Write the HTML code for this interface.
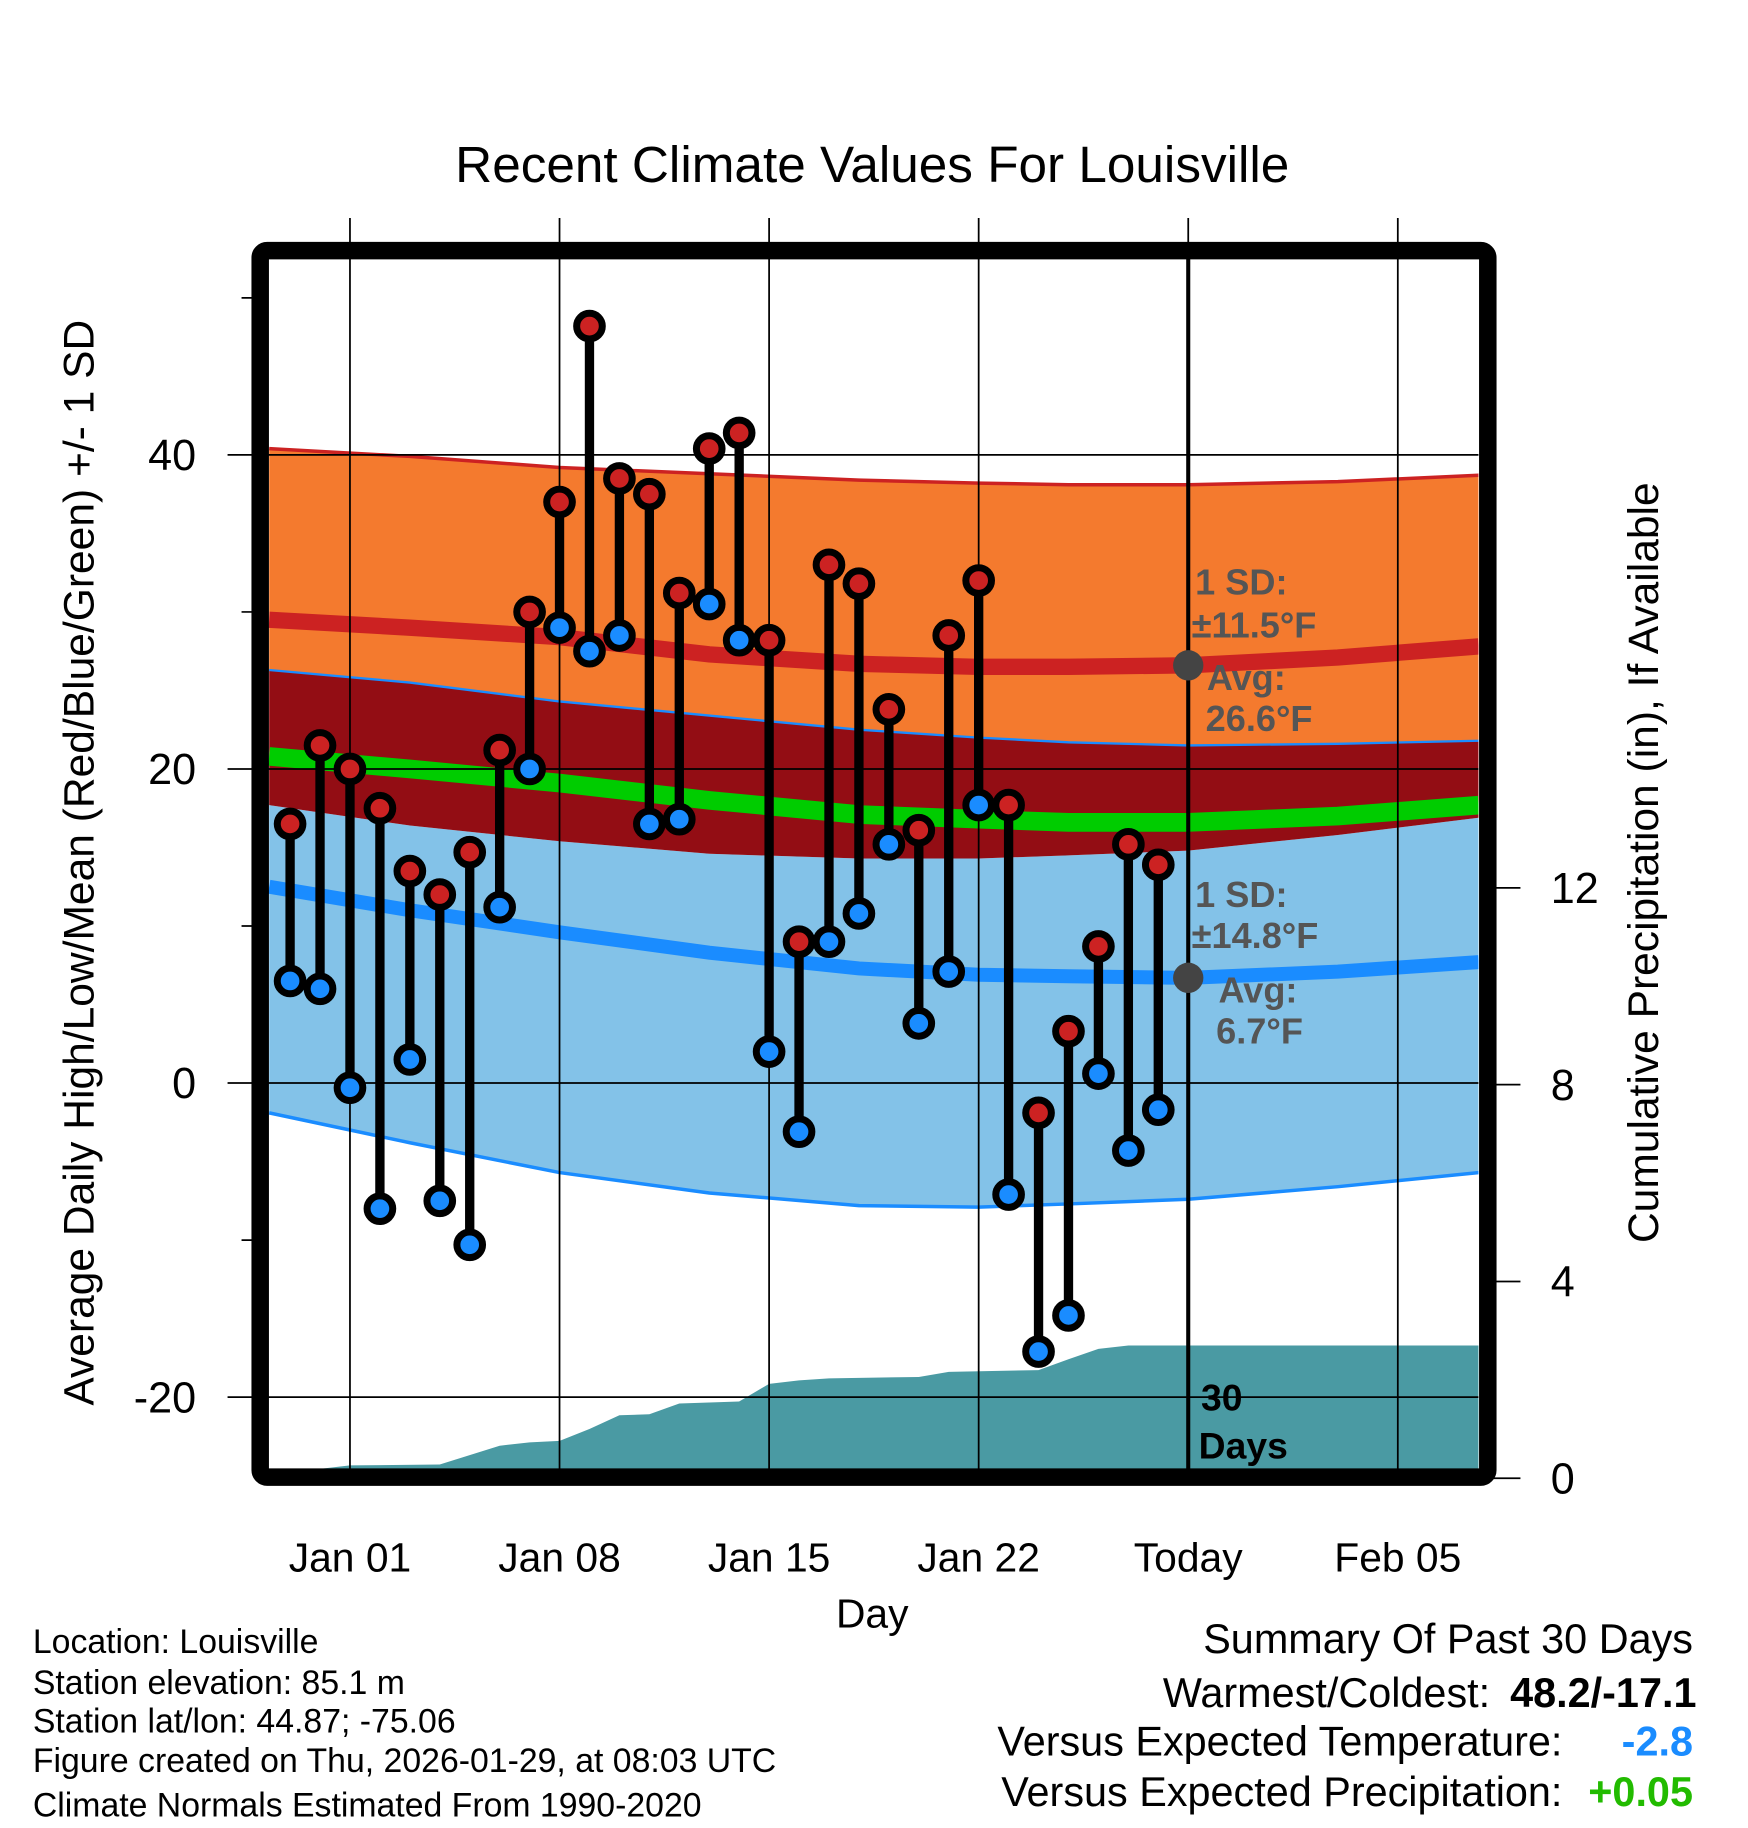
<!DOCTYPE html>
<html><head><meta charset="utf-8"><style>
html,body{margin:0;padding:0;background:#fff}
svg{display:block;font-family:"Liberation Sans",sans-serif}
</style></head><body>
<svg id="chart" xmlns="http://www.w3.org/2000/svg" width="1748" height="1828" viewBox="0 0 1499 1568">
<rect width="1499" height="1568" fill="#fff"/>
<g id="plot"></g>
</svg>
<script>
const days = [-2,-1,0,1,2,3,4,5,6,7,8,9,10,11,12,13,14,15,16,17,18,19,20,21,22,23,24,25,26,27];
const highs = [16.5,21.5,20,17.5,13.5,12,14.7,21.2,30,37,48.2,38.5,37.5,31.2,40.4,41.4,28.2,9,33,31.8,23.8,16.1,28.5,32,17.7,-1.9,3.3,8.7,15.2,13.9];
const lows = [6.5,6,-0.3,-8,1.5,-7.5,-10.3,11.2,20,29,27.5,28.5,16.5,16.8,30.5,28.2,2,-3.1,9,10.8,15.2,3.8,7.1,17.7,-7.1,-17.1,-14.8,0.6,-4.3,-1.7];
const normDays = [-2.7,2,7,12,17,21,24,28,33,37.7];
const highTop = [40.4,39.9,39.2,38.8,38.4,38.2,38.1,38.1,38.3,38.7];
const highMean = [29.5,29.0,28.4,27.3,26.7,26.5,26.5,26.6,27.1,27.8];
const highBot = [26.3,25.5,24.3,23.4,22.5,22.0,21.7,21.5,21.6,21.8];
const meanVals = [20.8,20.0,19.1,18.0,17.1,16.8,16.6,16.6,17.0,17.7];
const lowTop = [17.7,16.4,15.4,14.6,14.3,14.3,14.5,14.8,15.8,16.9];
const lowMean = [12.5,11.0,9.6,8.3,7.3,6.9,6.8,6.7,7.1,7.7];
const lowBot = [-1.9,-3.8,-5.7,-7.0,-7.8,-7.9,-7.7,-7.4,-6.6,-5.7];
const precipDays = [-2.7,-1,0,3,5,6,7,8,9,10,11,13,14,15,16,19,20,23,24,25,26,37.7];
const precipVals = [0,0.02,0.26,0.28,0.66,0.73,0.76,1.0,1.28,1.3,1.52,1.56,1.92,1.99,2.03,2.06,2.16,2.2,2.42,2.63,2.7,2.7];
const yTicks = [40,20,0,-20];
const yMinor = [50,30,10,-10];
const pTicks = [0,4,8,12];
const xTickDays = [0,7,14,21,28,35];
const xTickLabels = ["Jan 01","Jan 08","Jan 15","Jan 22","Today","Feb 05"];

const NS="http://www.w3.org/2000/svg";
const X = d => 300 + d*25.68;
const Y = t => 929 - t*13.47;
const P = p => 1268 - p*42.2;
const L=230,R=1268,T=222,B=1260;
const g=document.getElementById('plot');
function mk(tag,attrs,parent){const e=document.createElementNS(NS,tag);for(const k in attrs)e.setAttribute(k,attrs[k]);(parent||g).appendChild(e);return e;}
function line(arr){return normDays.map((d,i)=>`${X(d).toFixed(1)},${Y(arr[i]).toFixed(1)}`).join(' ');}
function band(top,bot){return line(top)+' '+normDays.map((d,i)=>`${X(d).toFixed(1)},${Y(bot[i]).toFixed(1)}`).reverse().join(' ');}

let e=mk('text',{x:748,y:156,'font-size':44,'text-anchor':'middle'});e.textContent='Recent Climate Values For Louisville';



const clip=mk('clipPath',{id:'pc'});mk('rect',{x:L,y:T,width:R-L,height:B-T},clip);
const pg=mk('g',{'clip-path':'url(#pc)'});

e=mk('polygon',{points:band(highTop,highBot),fill:'#f47a2e'},pg);


e=mk('polygon',{points:band(lowTop,lowBot),fill:'#83c2e8'},pg);


e=mk('polygon',{points:band(highBot,lowTop),fill:'#930d14'},pg);


mk('polyline',{points:line(highTop),fill:'none',stroke:'#cc2222','stroke-width':3},pg);
mk('polyline',{points:line(highBot),fill:'none',stroke:'#1a8cff','stroke-width':2},pg);
mk('polyline',{points:line(lowBot),fill:'none',stroke:'#1a8cff','stroke-width':3},pg);
e=mk('polyline',{points:line(highMean),fill:'none',stroke:'#cc2222','stroke-width':14},pg);


e=mk('polyline',{points:line(meanVals),fill:'none',stroke:'#00cc00','stroke-width':16},pg);


e=mk('polyline',{points:line(lowMean),fill:'none',stroke:'#1a8cff','stroke-width':12},pg);



let pp=`${X(precipDays[0])},${B} `+precipDays.map((d,i)=>`${X(d).toFixed(1)},${Math.min(B,P(precipVals[i])).toFixed(1)}`).join(' ')+` ${X(precipDays[precipDays.length-1])},${B}`;
e=mk('polygon',{points:pp,fill:'#4a9aa3'},pg);



yTicks.forEach(t=>{mk('line',{x1:195,x2:R,y1:Y(t),y2:Y(t),stroke:'#000','stroke-width':1.5});
 e=mk('text',{x:168,y:Y(t)+13,'font-size':37,'text-anchor':'end'});e.textContent=t;
 
 });
yMinor.forEach(t=>mk('line',{x1:207,x2:L,y1:Y(t),y2:Y(t),stroke:'#000','stroke-width':1.5}));
xTickDays.forEach((d,i)=>{mk('line',{x1:X(d),x2:X(d),y1:187,y2:B,stroke:'#000','stroke-width':1.5});
 e=mk('text',{x:X(d),y:1348,'font-size':35,'text-anchor':'middle'});e.textContent=xTickLabels[i];
 
 });
pTicks.forEach(p=>{mk('line',{x1:1276,x2:1304,y1:P(p),y2:P(p),stroke:'#000','stroke-width':1.5});
 e=mk('text',{x:1330,y:P(p)+13,'font-size':37});e.textContent=p;
 
 });

e=mk('line',{x1:X(28),x2:X(28),y1:T,y2:B,stroke:'#000','stroke-width':3.5});



days.forEach((d,i)=>{
 e=mk('line',{x1:X(d),x2:X(d),y1:Y(highs[i]),y2:Y(lows[i]),stroke:'#000','stroke-width':8});
 
 
});
days.forEach((d,i)=>{
 e=mk('circle',{cx:X(d),cy:Y(highs[i]),r:11,fill:'#cc2222',stroke:'#000','stroke-width':6});
 
 
 e=mk('circle',{cx:X(d),cy:Y(lows[i]),r:11,fill:'#1a8cff',stroke:'#000','stroke-width':6});
 
 
});

mk('circle',{cx:X(28),cy:Y(26.6),r:13,fill:'#444'});
mk('circle',{cx:X(28),cy:Y(6.7),r:13,fill:'#444'});
const ann=[['1 SD:',1025,510],['±11.5°F',1022,547],['Avg:',1035,592],['26.6°F',1034,627],['1 SD:',1025,778],['±14.8°F',1022,813],['Avg:',1045,860],['6.7°F',1043,895]];
ann.forEach(a=>{e=mk('text',{x:a[1],y:a[2],'font-size':31,'font-weight':'bold',fill:'#555'});e.textContent=a[0];
 
 });
e=mk('text',{x:1030,y:1210,'font-size':32,'font-weight':'bold'});e.textContent='30';


e=mk('text',{x:1028,y:1251,'font-size':32,'font-weight':'bold'});e.textContent='Days';



e=mk('rect',{x:223,y:215,width:1053,height:1052,rx:6,fill:'none',stroke:'#000','stroke-width':15});



e=mk('text',{x:0,y:0,'font-size':36.5,'text-anchor':'middle',transform:'translate(80,740) rotate(-90)'});e.textContent='Average Daily High/Low/Mean (Red/Blue/Green) +/- 1 SD';


e=mk('text',{x:0,y:0,'font-size':36.5,'text-anchor':'middle',transform:'translate(1422,740) rotate(-90)'});e.textContent='Cumulative Precipitation (in), If Available';


e=mk('text',{x:748,y:1396,'font-size':35,'text-anchor':'middle'});e.textContent='Day';



const info=[['Location: Louisville',1418],['Station elevation: 85.1 m',1453],['Station lat/lon: 44.87; -75.06',1486],['Figure created on Thu, 2026-01-29, at 08:03 UTC',1520],['Climate Normals Estimated From 1990-2020',1558]];
info.forEach(a=>{e=mk('text',{x:28,y:a[1],'font-size':29});e.textContent=a[0];
 
 });
const sr=[['Summary Of Past 30 Days',1452,1418,'#000','normal'],['Warmest/Coldest:',1278,1464,'#000','normal'],['48.2/-17.1',1455,1464,'#000','bold'],['Versus Expected Temperature:',1340,1506,'#000','normal'],['-2.8',1452,1506,'#1a8cff','bold'],['Versus Expected Precipitation:',1340,1549,'#000','normal'],['+0.05',1452,1549,'#22bb00','bold']];
sr.forEach(a=>{e=mk('text',{x:a[1],y:a[2],'font-size':35.5,'text-anchor':'end',fill:a[3],'font-weight':a[4]});e.textContent=a[0];
 
 });
</script>
</body></html>
